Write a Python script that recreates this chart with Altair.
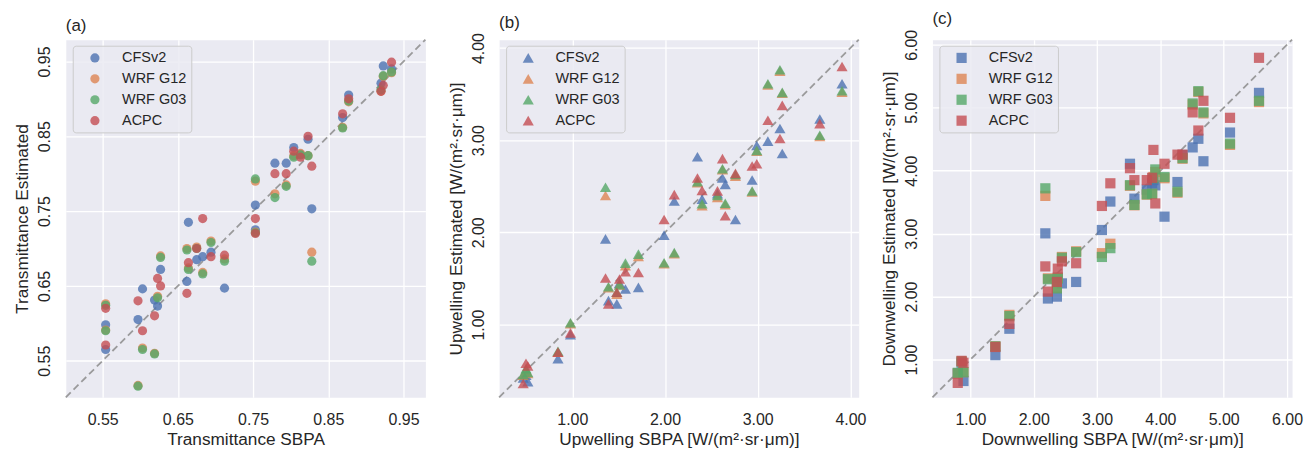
import altair as alt
import pandas as pd

models = ["CFSv2", "WRF G12", "WRF G03", "ACPC"]
colors = ["#4c72b0", "#dd8452", "#55a868", "#c44e52"]

# ---------------- (a) Transmittance ----------------
a_x = [0.554, 0.554, 0.597, 0.603, 0.619, 0.623, 0.627, 0.662, 0.664, 0.675,
       0.683, 0.694, 0.712, 0.753, 0.753, 0.779, 0.794, 0.804, 0.813, 0.823,
       0.828, 0.869, 0.877, 0.920, 0.923, 0.934]
a_cfs = [0.598, 0.565, 0.605, 0.646, 0.631, 0.623, 0.672, 0.656, 0.735, 0.685,
         0.689, 0.695, 0.647, 0.758, 0.725, 0.814, 0.814, 0.835, 0.826, 0.846,
         0.753, 0.875, 0.905, 0.921, 0.944, 0.940]
a_g12 = [0.626, 0.591, 0.517, 0.567, 0.560, 0.636, 0.690, 0.700, 0.674, 0.702,
         0.668, 0.710, 0.686, 0.790, 0.722, 0.773, 0.785, 0.824, 0.827, 0.824,
         0.695, 0.862, 0.896, 0.910, 0.930, 0.935]
a_g03 = [0.624, 0.590, 0.516, 0.565, 0.559, 0.634, 0.688, 0.698, 0.672, 0.700,
         0.666, 0.708, 0.683, 0.793, 0.721, 0.768, 0.783, 0.822, 0.825, 0.824,
         0.683, 0.861, 0.897, 0.912, 0.931, 0.936]
a_acpc = [0.620, 0.571, 0.630, 0.590, 0.610, 0.660, 0.650, 0.640, 0.681, 0.700,
          0.740, 0.689, 0.691, 0.740, 0.720, 0.800, 0.800, 0.830, 0.822, 0.850,
          0.810, 0.880, 0.900, 0.910, 0.918, 0.949]
a_domain = [0.501, 0.979]
a_ticks = [0.55, 0.65, 0.75, 0.85, 0.95]

# ---------------- (b) Upwelling ----------------
b_x = [0.47, 0.50, 0.52, 0.845, 0.98, 1.358, 1.39, 1.48, 1.509, 1.573,
       1.713, 1.99, 2.10, 2.35, 2.40, 2.566, 2.62, 2.65, 2.76, 2.94,
       2.99, 3.11, 3.24, 3.265, 3.67, 3.91]
b_cfs = [0.42, 0.45, 0.38, 0.63, 0.89, 1.93, 1.26, 1.224, 1.45, 1.386,
         1.403, 1.97, 2.34, 2.82, 2.36, 2.42, 2.59, 2.52, 2.14, 2.568,
         2.943, 2.99, 3.127, 2.856, 3.23, 3.613]
b_g12 = [0.45, 0.50, 0.47, 0.70, 1.01, 2.40, 1.40, 1.33, 1.43, 1.64,
         1.74, 1.66, 1.77, 2.54, 2.29, 2.38, 2.68, 2.30, 2.61, 2.44,
         2.88, 3.60, 3.75, 3.51, 3.04, 3.52]
b_g03 = [0.46, 0.52, 0.48, 0.71, 1.02, 2.49, 1.41, 1.35, 1.432, 1.667,
         1.764, 1.67, 1.78, 2.55, 2.31, 2.40, 2.69, 2.316, 2.63, 2.449,
         2.89, 3.613, 3.764, 3.519, 3.054, 3.537]
b_acpc = [0.36, 0.58, 0.55, 0.70, 0.91, 1.505, 1.224, 1.35, 1.494, 1.573,
          1.565, 2.14, 2.41, 2.59, 2.456, 2.45, 2.80, 2.18, 2.64, 2.72,
          2.744, 3.216, 3.018, 3.378, 3.18, 3.80]
b_domain = [0.21, 4.09]
b_ticks = [1.0, 2.0, 3.0, 4.0]

# ---------------- (c) Downwelling ----------------
c_x = [0.80, 0.86, 0.89, 1.394, 1.615, 2.183, 2.224, 2.366, 2.38, 2.445,
       2.67, 3.076, 3.21, 3.52, 3.59, 3.785, 3.87, 3.89, 3.92, 4.065,
       4.27, 4.35, 4.51, 4.60, 4.68, 5.10, 5.558]
c_cfs = [0.78, 0.95, 0.66, 1.07, 1.49, 3.005, 1.97, 2.00, 2.30, 2.21,
         2.233, 3.058, 3.51, 4.11, 3.556, 3.70, 3.80, 3.85, 3.767, 3.27,
         3.82, 4.25, 4.37, 4.507, 4.15, 4.606, 5.236]
c_g12 = [0.78, 0.97, 0.80, 1.21, 1.71, 3.60, 2.29, 2.14, 2.30, 2.63,
         2.72, 2.69, 2.84, 3.76, 3.45, 3.62, 3.63, 3.90, 3.98, 3.88,
         3.65, 4.19, 5.05, 5.25, 4.91, 4.41, 5.09]
c_g03 = [0.79, 0.97, 0.80, 1.21, 1.69, 3.72, 2.276, 2.13, 2.287, 2.617,
         2.706, 2.63, 2.77, 3.77, 3.457, 3.625, 3.635, 3.88, 4.02, 3.90,
         3.666, 4.20, 5.068, 5.263, 4.926, 4.43, 5.11]
c_acpc = [0.63, 0.98, 0.95, 1.20, 1.567, 2.48, 2.08, 2.233, 2.444, 2.56,
          2.53, 3.44, 3.80, 4.04, 3.85, 3.85, 3.887, 4.33, 3.48, 4.11,
          4.255, 4.255, 4.926, 4.638, 5.11, 4.84, 5.793]
c_domain = [0.40, 6.08]
c_ticks = [1.0, 2.0, 3.0, 4.0, 5.0, 6.0]

FONT = "Liberation Sans"
TXT = "#262626"
W, H = 361, 359


def long_df(xs, series):
    rows = []
    for m, ys in zip(models, series):
        for xv, yv in zip(xs, ys):
            rows.append({"x": xv, "y": yv, "model": m})
    return pd.DataFrame(rows)


def panel(xs, series, domain, ticks, shape, size, xtitle, ytitle, label):
    df = long_df(xs, series)
    line_df = pd.DataFrame({"x": domain, "y": domain})
    xsc = alt.Scale(domain=domain, nice=False, zero=False)
    ysc = alt.Scale(domain=domain, nice=False, zero=False)
    xaxis = alt.Axis(values=ticks, format=".2f", title=xtitle, labelPadding=14,
                     titlePadding=3)
    yaxis = alt.Axis(values=ticks, format=".2f", title=ytitle, labelAngle=270,
                     labelAlign="center", labelBaseline="alphabetic", labelPadding=16,
                     titleAngle=270, titleAlign="center", titleBaseline="alphabetic",
                     titleX=-38, titleY=H / 2)
    line = alt.Chart(line_df).mark_line(
        color="#8c8c8c", strokeDash=[7, 4], strokeWidth=1.8, opacity=0.85
    ).encode(x=alt.X("x:Q", scale=xsc, axis=xaxis), y=alt.Y("y:Q", scale=ysc, axis=yaxis))
    pts = alt.Chart(df).mark_point(
        shape=shape, filled=True, size=size, opacity=0.8, strokeWidth=0
    ).encode(
        x=alt.X("x:Q", scale=xsc, axis=xaxis),
        y=alt.Y("y:Q", scale=ysc, axis=yaxis),
        color=alt.Color(
            "model:N",
            scale=alt.Scale(domain=models, range=colors),
            sort=models,
            legend=alt.Legend(
                title=None, orient="none", legendX=7, legendY=6,
                symbolType=shape, symbolSize=size, symbolOpacity=0.8,
                symbolStrokeWidth=0, symbolOffset=10,
                labelFontSize=14.5, labelFont=FONT, labelColor=TXT,
                labelOffset=20, rowPadding=6, padding=5,
                fillColor="rgba(234,234,242,0.85)", strokeColor="#cccccc",
                cornerRadius=3,
            ),
        ),
    )
    return alt.layer(line, pts).properties(
        width=W, height=H,
        title=alt.TitleParams(label, anchor="start", frame="group", fontSize=17,
                              fontWeight="normal", font=FONT, color=TXT, offset=1),
    )


pa = panel(a_x, [a_cfs, a_g12, a_g03, a_acpc], a_domain, a_ticks, "circle", 85,
           "Transmittance SBPA", "Transmittance Estimated", "(a)")
pb = panel(b_x, [b_cfs, b_g12, b_g03, b_acpc], b_domain, b_ticks, "triangle-up", 125,
           "Upwelling SBPA [W/(m²·sr·μm)]", "Upwelling Estimated [W/(m²·sr·μm)]", "(b)")
pc = panel(c_x, [c_cfs, c_g12, c_g03, c_acpc], c_domain, c_ticks, "square", 105,
           "Downwelling SBPA [W/(m²·sr·μm)]", "Downwelling Estimated [W/(m²·sr·μm)]", "(c)")

chart = alt.hconcat(pa, pb, pc, spacing=74, bounds="flush").resolve_scale(
    color="independent"
).resolve_legend(color="independent").configure_view(
    fill="#eaeaf2", stroke="transparent"
).configure_axis(
    grid=True, gridColor="white", gridWidth=1.3, domain=False, ticks=False,
    labelFont=FONT, titleFont=FONT, labelFontSize=16, titleFontSize=17.3,
    labelColor=TXT, titleColor=TXT, titleFontWeight="normal",
).properties(
    padding={"top": 0, "left": 5, "right": 5, "bottom": 5}
)

chart.save("out.html", embed_options={"renderer": "svg", "actions": False})
